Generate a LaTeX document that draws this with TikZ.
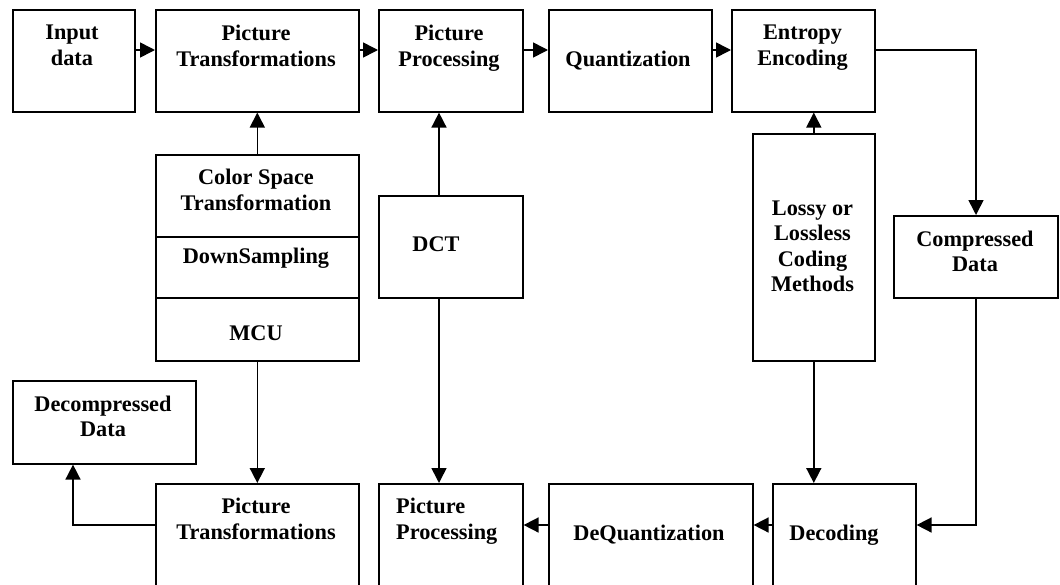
\documentclass[tikz,border=0pt]{standalone}
\usepackage{fontspec}
\setmainfont{Liberation Serif}
\usetikzlibrary{arrows.meta}
\begin{document}
\begin{tikzpicture}[x=1pt,y=-1pt,
 box/.style={draw, line width=1.6pt, inner sep=0pt, anchor=north west},
 lbl/.style={font=\bfseries\fontsize{22.3}{25.5}\selectfont, align=center, inner sep=0pt, anchor=north, execute at begin node=\strut},
 arr/.style={line width=1.6pt, -{Triangle[length=15pt,width=15pt]}}]
\useasboundingbox (0,0) rectangle (1060,584);
\fill[white] (0,0) rectangle (1060,584);
\clip (0,0) rectangle (1060,584);
% boxes
\node[box, minimum width=122pt, minimum height=102pt] (in) at (12,9) {};
\node[box, minimum width=203pt, minimum height=102pt] (pt1) at (155,9) {};
\node[box, minimum width=144pt, minimum height=102pt] (pp1) at (378,9) {};
\node[box, minimum width=163pt, minimum height=102pt] (q) at (548,9) {};
\node[box, minimum width=143pt, minimum height=102pt] (ee) at (731,9) {};
\node[box, minimum width=203pt, minimum height=82pt] (cs1) at (155,154) {};
\node[box, minimum width=203pt, minimum height=61pt] (cs2) at (155,236) {};
\node[box, minimum width=203pt, minimum height=63pt] (cs3) at (155,297) {};
\node[box, minimum width=144pt, minimum height=102pt] (dct) at (378,195) {};
\node[box, minimum width=122pt, minimum height=227pt] (lossy) at (752,133) {};
\node[box, minimum width=164pt, minimum height=82pt] (cd) at (893,215) {};
\node[box, minimum width=183pt, minimum height=83pt] (dd) at (12,380) {};
\node[box, minimum width=203pt, minimum height=120pt] (pt2) at (155,483) {};
\node[box, minimum width=144pt, minimum height=120pt] (pp2) at (378,483) {};
\node[box, minimum width=204pt, minimum height=120pt] (dq) at (548,483) {};
\node[box, minimum width=143pt, minimum height=120pt] (dec) at (772,483) {};
% labels
\node[lbl] (in-t) at (72,25) {Input\\data};
\node[lbl] (pt1-t) at (256,25) {Picture\\Transformations};
\node[lbl] (pp1-t) at (449,25) {Picture\\Processing};
\node[lbl] (q-t) at (628,48) {Quantization};
\node[lbl] (ee-t) at (802.5,25) {Entropy\\Encoding};
\node[lbl] (cs1-t) at (256,169) {Color Space\\Transformation};
\node[lbl] (cs2-t) at (256,245) {DownSampling};
\node[lbl] (cs3-t) at (256,322) {MCU};
\node[lbl] (dct-t) at (436,233) {DCT};
\node[lbl] (lossy-t) at (812.5,200.5) {Lossy or\\Lossless\\Coding\\Methods};
\node[lbl] (cd-t) at (975,230.5) {Compressed\\Data};
\node[lbl] (dd-t) at (103,395.5) {Decompressed\\Data};
\node[lbl] (pt2-t) at (256,498) {Picture\\Transformations};
\node[lbl, anchor=north west, align=left] (pp2-t) at (396,498) {Picture\\Processing};
\node[lbl] (dq-t) at (649,522.3) {DeQuantization};
\node[lbl] (dec-t) at (834,522.3) {Decoding};
% helper coordinates
\coordinate (r1) at (0,50);
\coordinate (r2) at (0,525);
\coordinate (c1) at (439,0);
\coordinate (c2) at (73,0);
\coordinate (c3) at (976,0);
% connectors
\draw[arr] (in.east |- r1) -- (pt1.west |- r1);
\draw[arr] (pt1.east |- r1) -- (pp1.west |- r1);
\draw[arr] (pp1.east |- r1) -- (q.west |- r1);
\draw[arr] (q.east |- r1) -- (ee.west |- r1);
\draw[arr] (ee.east |- r1) -| (cd.north -| c3);
\draw[arr] (cs1.north) -- (pt1.south);
\draw[arr] (dct.north -| c1) -- (pp1.south -| c1);
\draw[arr] (lossy.north) -- (ee.south -| lossy.north);
\draw[arr] (cs3.south) -- (pt2.north);
\draw[arr] (dct.south -| c1) -- (pp2.north -| c1);
\draw[arr] (lossy.south) -- (dec.north -| lossy.south);
\draw[arr] (cd.south -| c3) |- (dec.east |- r2);
\draw[arr] (dec.west |- r2) -- (dq.east |- r2);
\draw[arr] (dq.west |- r2) -- (pp2.east |- r2);
\draw[arr] (pt2.west |- r2) -| (dd.south -| c2);
\end{tikzpicture}
\end{document}
